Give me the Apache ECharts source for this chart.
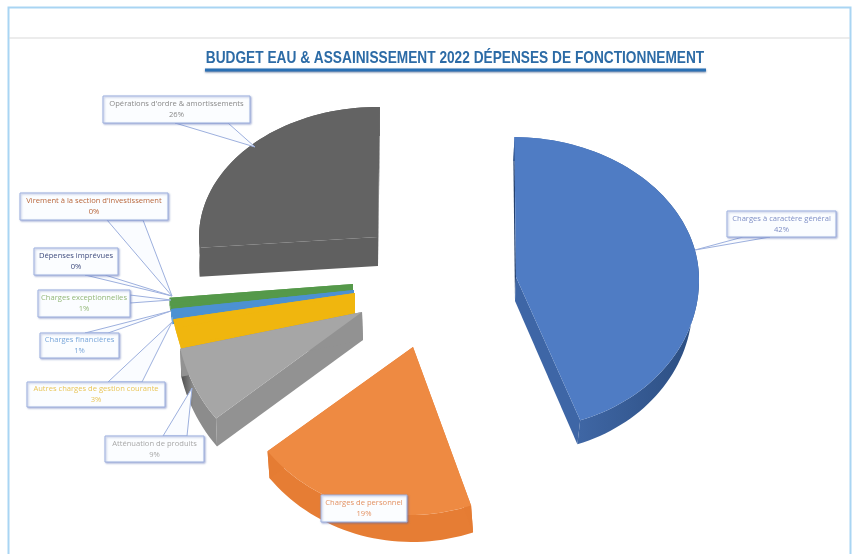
<!DOCTYPE html>
<html><head><meta charset="utf-8">
<style>html,body{margin:0;padding:0;background:#fff}#c{width:854px;height:554px;filter:blur(0.45px)}</style>
<script src="https://cdn.jsdelivr.net/npm/echarts@6/dist/echarts.min.js"></script>
</head><body><div id="c"></div>
<script>
// ---- data ----
var chartTitle = "BUDGET EAU & ASSAINISSEMENT 2022 DÉPENSES DE FONCTIONNEMENT";
var categories = ["Charges à caractère général","Charges de personnel","Atténuation de produits","Autres charges de gestion courante","Charges financières","Charges exceptionnelles","Dépenses imprévues","Virement à la section d'investissement","Opérations d'ordre & amortissements"];
var shares = [44.3,19.7,7.2,0.9,0.7,0.5,0,0,26.4];
var shareLabels = ["42%","19%","9%","3%","1%","1%","0%","0%","26%"];

// ---- styling and layout of the exploded 3D pie ----
var startDeg = 0.6;
var topColors  = ["#4f7cc4","#ee8a42","#a6a6a6","#f0b60e","#4c91d2","#55994a","#000","#000","#636363"];
var wallColors = ["#3e66a6","#e57c33","#929292","#f0b60e","#4c91d2","#55994a","#000","#000","#606060"];
var rimFrom    = ["#4a74b8","#e67d34","#4a4a4a","#f0b60e","#4c91d2","#55994a","#000","#000","#606060"];
var rimTo      = ["#2b4d80","#e67d34","#8c8c8c","#f0b60e","#4c91d2","#55994a","#000","#000","#606060"];
var textColors = ["#7f8fc6","#e39263","#a8a8a8","#e9c558","#79a6da","#93b878","#3f4c7e","#b8673c","#8a8a8a"];
// explode layout: top-face apex, radii up/down, perspective lean, wall height, wall shift, depth shrink, paint order
var apexX = [516,413,362,355,354,353,0,0,378];
var apexY = [277,347,312,293,290,284,0,0,237];
var radX  = [183,183,186,184,184,184,0,0,179];
var radUp = [140,168,172,166,166,166,0,0,130];
var radDn = [152,168,172,166,166,166,0,0,130];
var lean  = [3.5,-3,0,0,0,0,0,0,0];
var wallH = [24,27,28,25,8,8,0,0,29];
var wallX = [-1,2,1,0,0,0,0,0,0];
var shrink= [0.97,1,1,0.96,1,1,1,1,1];
var paint = [7,8,6,5,4,3,0,0,2];
// callout layout: box left, top, right, bottom, tail base a, tail base b, tail tip
var boxes = [
 [727,211,836,237, [743,237],[770,237],[695,250]],
 [321,495,407,522, null,null,null],
 [105,436,204,462, [163,436],[187,436],[192,388]],
 [27,382,165,407,  [108,382],[142,382],[172,322]],
 [40,333,119,358,  [85,333],[108,333],[171,311]],
 [38,290,130,317,  [130,295],[130,303],[171,300]],
 [34,248,118,275,  [85,275],[105,275],[172,296]],
 [20,193,168,220,  [107,220],[143,220],[172,296]],
 [103,96,250,123,  [175,123],[228,123],[255,147]]
];

var total = shares.reduce(function(a,b){return a+b;},0);
function arcRange(i){
  var before = shares.slice(0,i).reduce(function(a,b){return a+b;},0);
  return [startDeg+before/total*360, startDeg+(before+shares[i])/total*360];
}
function rimPoint(i,deg,lower){
  var t=deg*Math.PI/180, u=Math.sin(t), v=-Math.cos(t);
  var ry=v<0?radUp[i]:radDn[i];
  return lower
    ? [apexX[i]+wallX[i]+radX[i]*u*shrink[i]+lean[i]*v, apexY[i]+wallH[i]+ry*v]
    : [apexX[i]+radX[i]*u+lean[i]*v, apexY[i]+ry*v];
}
function rimPoints(i,lower){
  var r=arcRange(i), n=Math.max(2,Math.ceil((r[1]-r[0])/2)), out=[];
  for(var k=0;k<=n;k++) out.push(rimPoint(i,r[0]+(r[1]-r[0])*k/n,lower));
  return out;
}
function renderSlice(params,api){
  var i=params.dataIndex;
  if(!(api.value(0)>0)) return {type:'group',children:[]};
  var top=rimPoints(i,false), low=rimPoints(i,true);
  var a=[apexX[i],apexY[i]], b=[apexX[i]+wallX[i],apexY[i]+wallH[i]];
  var z=paint[i]*10;
  var rim=top.concat(low.slice().reverse());
  var xs=rim.map(function(p){return p[0];});
  return {type:'group',children:[
    {type:'polygon',z2:z,shape:{points:rim},style:{fill:new echarts.graphic.LinearGradient(Math.min.apply(null,xs),0,Math.max.apply(null,xs),0,[{offset:0,color:rimFrom[i]},{offset:i===2?0.35:1,color:rimTo[i]},{offset:1,color:rimTo[i]}],true)}},
    {type:'polygon',z2:z+1,shape:{points:[a,top[0],low[0],b]},style:{fill:i===0?'#24406e':wallColors[i]}},
    {type:'polygon',z2:z+2,shape:{points:[a,top[top.length-1],low[low.length-1],b]},style:{fill:wallColors[i]}},
    {type:'polygon',z2:z+3,shape:{points:[a].concat(top)},style:{fill:topColors[i]}}
  ]};
}
function renderCallout(params){
  var i=params.dataIndex, b=boxes[i], kids=[], line='#9db0de';
  if(b[4]) kids.push({type:'polygon',z2:200,shape:{points:[b[4],b[6],b[5]]},style:{fill:'#fafcff',stroke:line,lineWidth:1}});
  kids.push({type:'rect',z2:201,shape:{x:b[0],y:b[1],width:b[2]-b[0],height:b[3]-b[1]},style:{fill:'#fbfdff',stroke:line,lineWidth:1,shadowBlur:2,shadowOffsetX:1,shadowOffsetY:1,shadowColor:'rgba(80,100,175,0.45)'}});
  kids.push({type:'text',z2:202,style:{x:(b[0]+b[2])/2,y:(b[1]+b[3])/2,text:categories[i]+"\n"+shareLabels[i],align:'center',verticalAlign:'middle',fontFamily:'"Open Sans","Liberation Sans",sans-serif',fontSize:7.6,lineHeight:11,fill:textColors[i]}});
  return {type:'group',children:kids};
}

var chart=echarts.init(document.getElementById('c'),null,{renderer:'canvas'});
chart.setOption({
  animation:false,
  backgroundColor:'#ffffff',
  graphic:[
    {type:'rect',z:-1,shape:{x:8.5,y:7.5,width:842,height:560},style:{fill:'#fff',stroke:'#a9d5f3',lineWidth:2}},
    {type:'line',z:-1,shape:{x1:9,y1:38,x2:850,y2:38},style:{stroke:'#d9d9d9',lineWidth:1.2}},
    {type:'rect',z:-1,shape:{x:205,y:68.5,width:501,height:3},style:{fill:'#2a70b4',shadowBlur:2,shadowColor:'rgba(30,60,110,0.6)',shadowOffsetY:1}},
    {type:'text',z:1,x:455,y:58,scaleX:0.83,style:{x:0,y:0,text:chartTitle,align:'center',verticalAlign:'middle',fontFamily:'"Liberation Sans",sans-serif',fontWeight:'bold',fontSize:16.5,fill:'#2c6ba6'}}
  ],
  series:[
    {type:'custom',coordinateSystem:'none',silent:true,clip:false,renderItem:renderSlice,
     data:shares.map(function(v,i){return {name:categories[i],value:[v]};})},
    {type:'custom',coordinateSystem:'none',silent:true,clip:false,z:5,renderItem:renderCallout,
     data:shares.map(function(v,i){return {name:categories[i],value:[v]};})}
  ]
});
</script></body></html>
